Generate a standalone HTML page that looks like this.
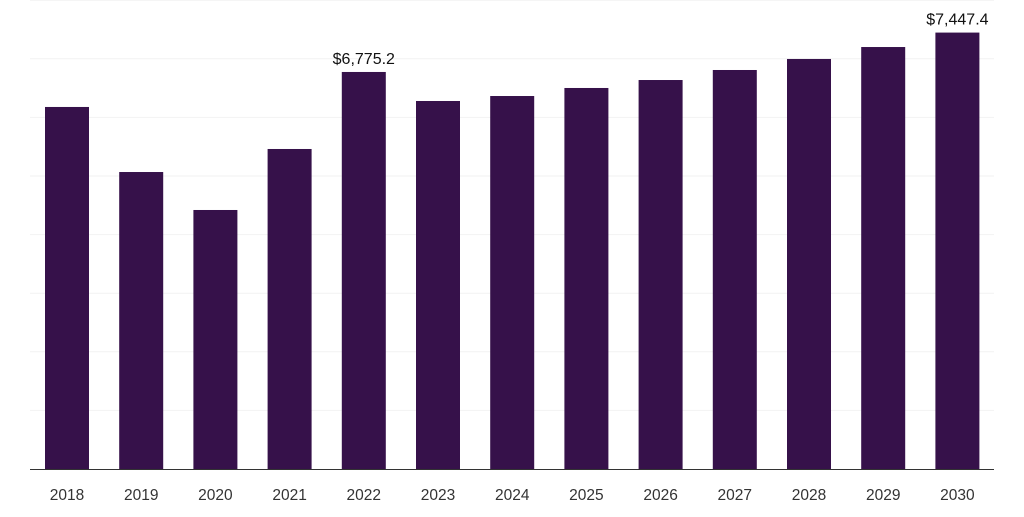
<!DOCTYPE html>
<html><head><meta charset="utf-8"><style>
html,body{margin:0;padding:0;background:#fff;}
svg text{font-family:"Liberation Sans",sans-serif;}
</style></head><body>
<svg id="chart" width="1024" height="512" xmlns="http://www.w3.org/2000/svg"></svg>
<script>
const categories=["2018","2019","2020","2021","2022","2023","2024","2025","2026","2027","2028","2029","2030"];
const values=[6178,5068,4420,5461,6775.2,6280,6365,6502,6638,6809,6997,7201,7447.4];
const valueLabels=["","","","","$6,775.2","","","","","","","","$7,447.4"];
const gridTicks=[0,1000,2000,3000,4000,5000,6000,7000,8000];
const svgEl=document.getElementById('chart');
const NS='http://www.w3.org/2000/svg';
const baseY=469, topY=0.2, vmax=8000;
function yScale(v){return baseY-(v/vmax)*(baseY-topY);}
const x0=67, step=74.2, bw=44;
function xScale(i){return x0+i*step;}
function mk(t,a){const e=document.createElementNS(NS,t);for(const k in a)e.setAttribute(k,a[k]);svgEl.appendChild(e);return e;}
gridTicks.forEach(function(t){if(t===0)return;const l=mk('line',{x1:30,x2:994,y1:yScale(t),y2:yScale(t),stroke:'#f2f2f2','stroke-width':1});

});
values.forEach(function(v,i){
const r=mk('rect',{x:xScale(i)-bw/2,y:yScale(v),width:bw,height:baseY-yScale(v),fill:'#36114a'});


const t=mk('text',{x:xScale(i),y:500,'text-anchor':'middle','font-size':15.5,fill:'#333'});t.textContent=categories[i];


if(valueLabels[i]){const vl=mk('text',{x:xScale(i),y:yScale(v)-8,'text-anchor':'middle','font-size':16,fill:'#111'});vl.textContent=valueLabels[i];

}
});
const ax=mk('line',{x1:30,x2:994,y1:baseY+0.5,y2:baseY+0.5,stroke:'#333','stroke-width':1});


</script>
</body></html>
